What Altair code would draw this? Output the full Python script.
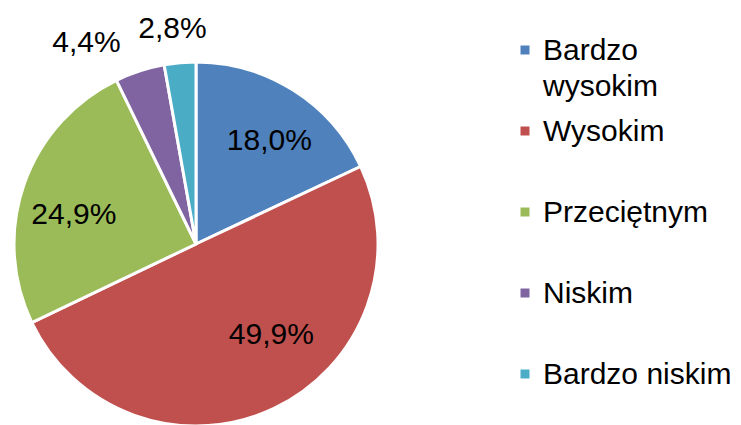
import altair as alt
import pandas as pd

categories = ["Bardzo wysokim", "Wysokim", "Przeciętnym", "Niskim", "Bardzo niskim"]
values = [18.0, 49.9, 24.9, 4.4, 2.8]
value_labels = ["18,0%", "49,9%", "24,9%", "4,4%", "2,8%"]
legend_labels = ["Bardzo\nwysokim", "Wysokim", "Przeciętnym", "Niskim", "Bardzo niskim"]
colors = ["#4F81BD", "#C0504D", "#9BBB59", "#8064A2", "#4BACC6"]

df = pd.DataFrame({
    "category": categories,
    "value": values,
    "label": value_labels,
    "legend": legend_labels,
    "idx": list(range(len(categories))),
})

CX, CY = 188, 236
R = 182
FONT = "Liberation Sans"
FS = 30

total = sum(values)
theta_scale = alt.Scale(domain=[0, total])
color = alt.Color("category:N", scale=alt.Scale(domain=categories, range=colors), legend=None)

base = alt.Chart(df)

pie = base.mark_arc(outerRadius=R, stroke="white", strokeWidth=3).encode(
    theta=alt.Theta("value:Q", stack=True, scale=theta_scale),
    order=alt.Order("idx:Q"),
    color=color,
    x=alt.value(CX),
    y=alt.value(CY),
)

# label style: radius and small nudges (styling only)
label_style = {
    "Bardzo wysokim": (122, 8, 0),
    "Wysokim": (122, 23, -19),
    "Przeciętnym": (122, -7, 11),
    "Niskim": (222, -41, 10),
    "Bardzo niskim": (222, -4, 6),
}

labels = []
for cat, (r, dx, dy) in label_style.items():
    lyr = (
        base.transform_window(cum="sum(value)", sort=[alt.SortField("idx")], frame=[None, 0])
        .transform_calculate(mid="datum.cum - datum.value / 2")
        .transform_filter(alt.datum.category == cat)
        .mark_text(radius=r, dx=dx, dy=dy, font=FONT, fontSize=FS, color="#000000",
                   align="center", baseline="middle")
        .encode(
            theta=alt.Theta("mid:Q", stack=False, scale=theta_scale),
            text="label:N",
            x=alt.value(CX),
            y=alt.value(CY),
        )
    )
    labels.append(lyr)

leg_y = alt.Y("category:N", scale=alt.Scale(type="point", domain=categories, range=[42, 366], padding=0), axis=None)

leg_sq = base.mark_square(size=81, opacity=1).encode(
    x=alt.value(517),
    y=leg_y,
    color=color,
)

leg_txt = base.mark_text(align="left", baseline="alphabetic", dy=10, lineBreak="\n", lineHeight=36,
                         font=FONT, fontSize=FS, color="#000000").encode(
    x=alt.value(535),
    y=leg_y,
    text="legend:N",
)

chart = alt.layer(pie, *labels, leg_sq, leg_txt).properties(
    width=725, height=417,
    autosize=alt.AutoSizeParams(type="none"),
    padding=0,
).configure_view(stroke="transparent")

chart.save("out.html", embed_options={"renderer": "svg", "actions": False})
